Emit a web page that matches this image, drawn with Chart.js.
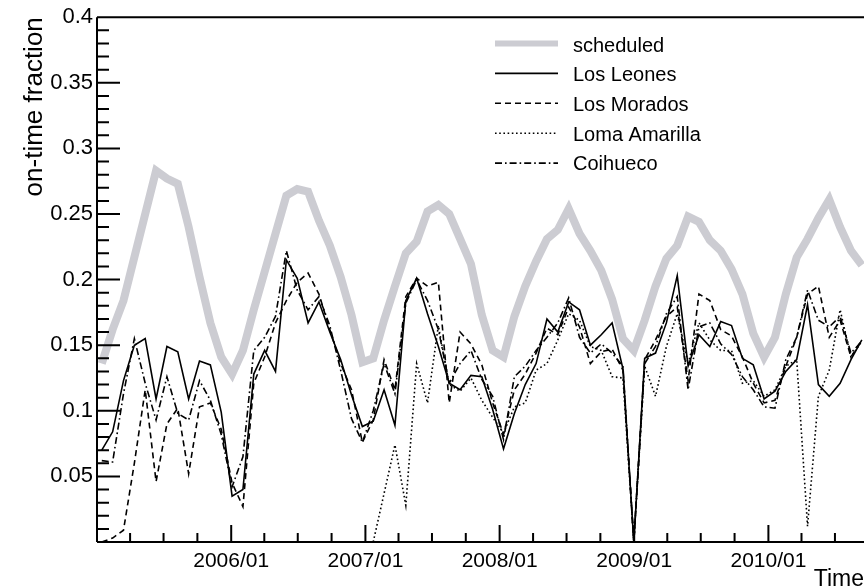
<!DOCTYPE html>
<html><head><meta charset="utf-8">
<script src="https://cdn.jsdelivr.net/npm/chart.js@4/dist/chart.umd.min.js"></script>
<style>html,body{margin:0;padding:0;background:#fff;}canvas{display:block;}</style>
</head><body>
<canvas id="c" width="864" height="588"></canvas>
<script>
// time bins: lunar observation cycles, centre day counted from 2005-01-01
const firstCycleDay = 13;
const cycleDays = 29.53;

const scheduled = [0.136,0.162,0.184,0.217,0.250,0.283,0.277,0.273,0.240,0.202,0.167,0.141,
 0.128,0.146,0.177,0.206,0.235,0.264,0.269,0.267,0.245,0.226,0.202,0.173,
 0.137,0.140,0.169,0.195,0.220,0.229,0.252,0.257,0.250,0.231,0.212,0.173,
 0.146,0.141,0.172,0.195,0.214,0.231,0.238,0.254,0.235,0.222,0.207,0.185,
 0.155,0.146,0.169,0.195,0.216,0.226,0.248,0.244,0.230,0.222,0.208,
 0.189,0.159,0.141,0.156,0.189,0.217,0.231,0.247,0.261,0.240,0.222,0.211];

const losLeones = [0.070,0.084,0.123,0.150,0.155,0.109,0.149,0.145,0.109,0.138,0.135,0.099,
 0.035,0.040,0.128,0.146,0.130,0.215,0.201,0.167,0.183,0.160,0.139,0.112,
 0.088,0.092,0.116,0.089,0.184,0.201,0.174,0.149,0.121,0.116,0.127,0.126,
 0.101,0.071,0.098,0.120,0.136,0.170,0.160,0.183,0.177,0.150,0.158,0.167,
 0.132,0.000,0.140,0.144,0.167,0.203,0.134,0.158,0.149,0.168,0.165,
 0.140,0.135,0.109,0.115,0.130,0.139,0.181,0.120,0.111,0.121,0.139,0.154];

const losMorados = [0.000,0.003,0.009,0.060,0.116,0.046,0.090,0.102,0.052,0.103,0.106,0.086,
 0.045,0.027,0.121,0.141,0.167,0.184,0.198,0.205,0.189,0.162,0.136,0.116,
 0.076,0.093,0.139,0.116,0.187,0.201,0.195,0.198,0.106,0.160,0.151,0.135,
 0.106,0.082,0.116,0.128,0.144,0.163,0.158,0.179,0.164,0.136,0.145,0.147,
 0.131,0.000,0.139,0.154,0.172,0.179,0.123,0.189,0.184,0.162,0.157,
 0.141,0.121,0.106,0.108,0.134,0.156,0.189,0.195,0.156,0.169,0.141,0.154];

const lomaAmarilla = [null,null,null,null,null,null,null,null,null,null,null,null,
 null,null,null,null,null,null,null,null,null,null,null,null,
 null,0.000,0.037,0.074,0.028,0.136,0.106,0.165,0.120,0.115,0.125,0.108,
 0.095,0.083,0.103,0.106,0.131,0.136,0.154,0.174,0.169,0.149,0.146,0.126,
 0.125,0.000,0.134,0.111,0.149,0.174,0.136,0.167,0.154,0.146,0.146,
 0.121,0.123,0.111,0.116,0.134,0.139,0.012,0.111,0.131,0.177,0.141,0.153];

const coihueco = [0.062,0.061,0.113,0.155,0.121,0.093,0.126,0.098,0.093,0.123,0.108,0.082,
 0.042,0.065,0.146,0.156,0.172,0.222,0.192,0.177,0.187,0.165,0.131,0.094,
 0.076,0.100,0.136,0.113,0.182,0.200,0.184,0.162,0.121,0.136,0.146,0.124,
 0.111,0.078,0.126,0.134,0.146,0.156,0.167,0.186,0.156,0.144,0.151,0.144,
 0.134,0.000,0.136,0.149,0.174,0.187,0.116,0.164,0.167,0.151,0.143,
 0.126,0.116,0.103,0.102,0.139,0.156,0.192,0.169,0.164,0.172,0.144,0.153];

const seriesNames = ['scheduled','Los Leones','Los Morados','Loma Amarilla','Coihueco'];

const xTickDays = [365, 730, 1095, 1461, 1826];
const xTickLabels = ['2006/01','2007/01','2008/01','2009/01','2010/01'];
const xMinorDays = [90,181,273,455,546,638,820,911,1003,1186,1277,1369,1551,1642,1734,1916,2007];
const yTickValues = [0.05,0.1,0.15,0.2,0.25,0.3,0.35,0.4];
const yTickLabels = ['0.05','0.1','0.15','0.2','0.25','0.3','0.35','0.4'];

function toPoints(arr){ return arr.map((v,i)=>({x: firstCycleDay + cycleDays*i, y: v})); }

Chart.defaults.font.family = "'Liberation Sans', Arial, Helvetica, sans-serif";
Chart.defaults.color = '#000';

const styles = [
  {borderColor:'rgb(204,204,210)', borderWidth:8, borderDash:[], order:10},
  {borderColor:'#000', borderWidth:1.6, borderDash:[], order:1},
  {borderColor:'#000', borderWidth:1.6, borderDash:[6,4], order:2},
  {borderColor:'#000', borderWidth:1.6, borderDash:[1.6,2.6], order:3},
  {borderColor:'#000', borderWidth:1.6, borderDash:[7,3,1.6,3], order:4}
];
const allSeries = [scheduled, losLeones, losMorados, lomaAmarilla, coihueco];

const datasets = allSeries.map((arr,k)=>Object.assign({
  label: seriesNames[k], data: toPoints(arr), pointRadius:0, tension:0, fill:false,
  spanGaps:false, borderJoinStyle:'miter', borderCapStyle:'butt'
}, styles[k]));

const framePlugin = {
  id:'frame',
  afterDraw(chart){
    const {ctx, chartArea:a, scales:{x,y}} = chart;
    ctx.save();
    ctx.strokeStyle='#000'; ctx.lineWidth=2; ctx.setLineDash([]);
    ctx.beginPath();
    ctx.moveTo(a.left, a.top); ctx.lineTo(a.right, a.top);
    ctx.moveTo(a.left, a.top); ctx.lineTo(a.left, a.bottom);
    ctx.moveTo(a.left, a.bottom); ctx.lineTo(a.right, a.bottom);
    for(let k=1;k<40;k++){
      const py = y.getPixelForValue(k/100);
      const len = (k%5===0)?23:12;
      ctx.moveTo(a.left, py); ctx.lineTo(a.left+len, py);
    }
    xTickDays.forEach(d=>{const px=x.getPixelForValue(d); ctx.moveTo(px,a.bottom); ctx.lineTo(px,a.bottom-17);});
    xMinorDays.forEach(d=>{const px=x.getPixelForValue(d); ctx.moveTo(px,a.bottom); ctx.lineTo(px,a.bottom-9);});
    ctx.stroke();
    // legend
    const lx0=495, lx1=558, tx=573;
    ctx.font = "20px 'Liberation Sans', Arial, sans-serif";
    ctx.fillStyle='#000'; ctx.textBaseline='alphabetic'; ctx.textAlign='left';
    chart.data.datasets.forEach((ds,k)=>{
      const ly = 43.5 + 29.9*k;
      ctx.beginPath();
      ctx.strokeStyle = ds.borderColor;
      ctx.lineWidth = k===0 ? 6 : 1.6;
      ctx.setLineDash(ds.borderDash||[]);
      ctx.moveTo(lx0, ly); ctx.lineTo(lx1, ly); ctx.stroke();
      ctx.fillText(ds.label, tx, 51.7 + 29.6*k);
    });
    ctx.restore();
  }
};

new Chart(document.getElementById('c'), {
  type:'line',
  data:{datasets},
  options:{
    responsive:false, animation:false, events:[],
    layout:{padding:{top:16,left:0,right:0,bottom:0}},
    plugins:{legend:{display:false}, tooltip:{enabled:false}},
    scales:{
      x:{
        type:'linear', min:0, max:2086,
        afterFit(s){ s.height = 46; },
        afterBuildTicks(s){ s.ticks = xTickDays.map(v=>({value:v})); },
        grid:{display:false, drawTicks:false},
        border:{display:false},
        ticks:{autoSkip:false, maxRotation:0, padding:7, font:{size:21},
          callback:(v)=>{const i=xTickDays.indexOf(v); return i>=0?xTickLabels[i]:'';}},
        title:{display:true, text:'Time', align:'end', font:{size:23, lineHeight:0.72}, padding:0}
      },
      y:{
        type:'linear', min:0, max:0.4,
        afterFit(s){ s.width = 97; },
        afterBuildTicks(s){ s.ticks = yTickValues.map(v=>({value:v})); },
        grid:{display:false, drawTicks:false},
        border:{display:false},
        ticks:{autoSkip:false, padding:4, font:{size:22},
          callback:(v)=>{const i=yTickValues.findIndex(t=>Math.abs(t-v)<1e-9); return i>=0?yTickLabels[i]:'';}},
        title:{display:true, text:'on-time fraction', align:'end', font:{size:26, lineHeight:1.2}, padding:{top:19}}
      }
    }
  },
  plugins:[framePlugin]
});
</script>
</body></html>
